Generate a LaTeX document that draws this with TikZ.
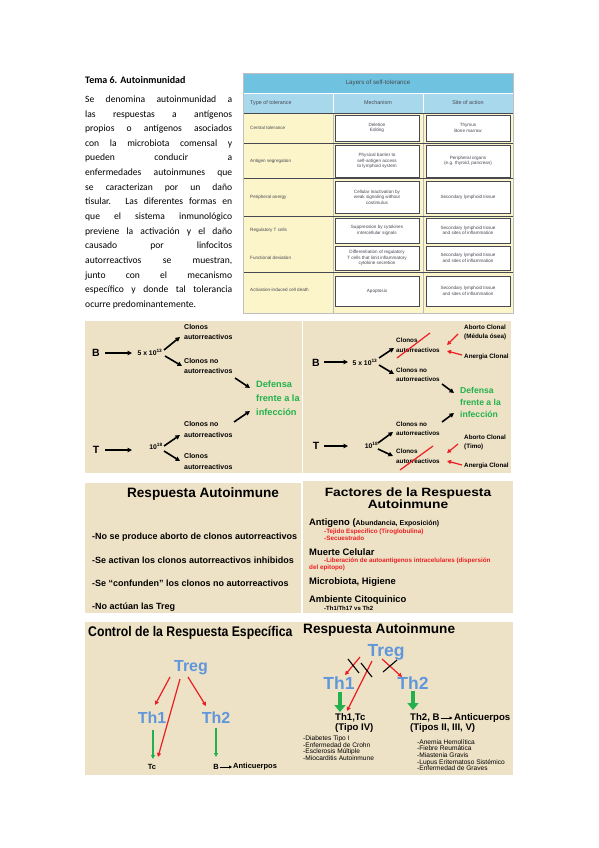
\documentclass[tikz,border=0pt]{standalone}
\usepackage{fontspec}
\setmainfont{Liberation Sans}
\newfontfamily\calf{Carlito}
\usetikzlibrary{arrows.meta,shadows}
\definecolor{parch}{RGB}{238,226,198}
\definecolor{tblue}{RGB}{112,195,224}
\definecolor{hblue}{RGB}{168,216,236}
\definecolor{tyel}{RGB}{252,245,202}
\definecolor{dgreen}{RGB}{34,177,76}
\definecolor{tblu}{RGB}{95,150,220}
\definecolor{rred}{RGB}{235,30,35}
\definecolor{tgray}{RGB}{70,72,82}
\tikzset{
 blk/.style={-{Triangle[length=4.5pt,width=4.5pt]}, line width=1.6pt},
 redar/.style={-{Triangle[length=4pt,width=4pt]}, line width=1.2pt, draw=rred},
 strike/.style={draw=rred, line width=1.2pt},
 xline/.style={draw=black, line width=1.1pt},
 grnar/.style={-{Triangle[length=4pt,width=4pt]}, line width=1.2pt, draw=dgreen},
 fatar/.style={-{Triangle[length=7pt,width=11pt]}, line width=4pt, draw=dgreen},
 thinar/.style={-{Triangle[length=3pt,width=3pt]}, line width=1pt},
 bigl/.style={font=\bfseries\fontsize{10.5}{12}\selectfont, inner sep=0pt},
 numl/.style={font=\bfseries\fontsize{6.8}{8}\selectfont, inner sep=0pt},
 lbla/.style={font=\bfseries\fontsize{7}{10.5}\selectfont, align=left, anchor=west, inner sep=0pt},
 lblb/.style={font=\bfseries\fontsize{6.3}{9.5}\selectfont, align=left, anchor=west, inner sep=0pt},
 grna/.style={font=\bfseries\fontsize{9.2}{14}\selectfont, text=dgreen, align=left, anchor=west, inner sep=0pt},
 grnb/.style={font=\bfseries\fontsize{8.6}{12}\selectfont, text=dgreen, align=left, anchor=west, inner sep=0pt},
 ttl/.style={font=\bfseries\fontsize{13.6}{15}\selectfont, inner sep=0pt},
 bul/.style={font=\bfseries\fontsize{9}{10}\selectfont, anchor=west, inner sep=0pt},
 dttl/.style={font=\bfseries\fontsize{12}{12.5}\selectfont, align=center, inner sep=0pt, xscale=1.15, transform shape},
 dhead/.style={font=\bfseries\fontsize{9.4}{10}\selectfont, anchor=west, inner sep=0pt},
 dred/.style={font=\bfseries\fontsize{6.3}{7}\selectfont, text=rred, anchor=west, inner sep=0pt},
 dsmall/.style={font=\bfseries\fontsize{6}{7}\selectfont, anchor=west, inner sep=0pt},
 ettl/.style={font=\bfseries\fontsize{14}{15}\selectfont, anchor=west, inner sep=0pt, xscale=0.875, transform shape},
 tbE/.style={font=\bfseries\fontsize{16}{17}\selectfont, text=tblu, inner sep=0pt},
 tbF/.style={font=\bfseries\fontsize{17.5}{18}\selectfont, text=tblu, inner sep=0pt},
 smallb/.style={font=\bfseries\fontsize{7.5}{8}\selectfont, inner sep=0pt},
 fmid/.style={font=\bfseries\fontsize{9.6}{10}\selectfont, align=left, anchor=west, inner sep=0pt},
 flist/.style={font=\fontsize{6.6}{6.7}\selectfont, align=left, anchor=west, inner sep=0pt},
 para/.style={font=\calf\fontsize{9.6}{14.64}\selectfont, align=left, anchor=north west, inner sep=0pt},
 tl/.style={font=\fontsize{4.6}{5.4}\selectfont, text=tgray, anchor=west, inner sep=0pt},
 th/.style={font=\fontsize{5.4}{6}\selectfont, text=tgray, inner sep=0pt},
 tbox/.style={draw=tgray, fill=white, line width=0.5pt, minimum width=84pt, align=center,
   font=\fontsize{4.6}{5.4}\selectfont, text=tgray, inner sep=1pt,
   drop shadow={shadow xshift=1.2pt, shadow yshift=-1.2pt, fill=tgray!85, opacity=1}},
}
\begin{document}
\begin{tikzpicture}[x=1pt,y=-1pt]
\useasboundingbox (0,0) rectangle (599,848);
\fill[white] (0,0) rectangle (599,848);
% ---------------- text block
\node[anchor=base west, inner sep=0pt, font=\calf\bfseries\fontsize{10}{12}\selectfont] (tema) at (85,83.5) {Tema 6. Autoinmunidad};
\node[para] (para) at (85,95.5) {%
\makebox[147pt][s]{Se denomina autoinmunidad a}\\
\makebox[147pt][s]{las respuestas a antígenos}\\
\makebox[147pt][s]{propios o antígenos asociados}\\
\makebox[147pt][s]{con la microbiota comensal y}\\
\makebox[147pt][s]{pueden conducir a}\\
\makebox[147pt][s]{enfermedades autoinmunes que}\\
\makebox[147pt][s]{se caracterizan por un daño}\\
\makebox[147pt][s]{tisular. Las diferentes formas en}\\
\makebox[147pt][s]{que el sistema inmunológico}\\
\makebox[147pt][s]{previene la activación y el daño}\\
\makebox[147pt][s]{causado por linfocitos}\\
\makebox[147pt][s]{autorreactivos se muestran,}\\
\makebox[147pt][s]{junto con el mecanismo}\\
\makebox[147pt][s]{específico y donde tal tolerancia}\\
ocurre predominantemente.};
% ---------------- table
\fill[tyel] (243,113) rectangle (513,313);
\fill[tblue] (243,73) rectangle (513,93);
\fill[hblue] (243,93) rectangle (513,113);
\draw[white, line width=0.8pt] (243,93) -- (513,93) (333,93) -- (333,113) (423,93) -- (423,113);
\draw[gray!55, line width=0.5pt] (333,113) -- (333,313) (423,113) -- (423,313);
\draw[tgray, line width=0.6pt] (243,113) -- (513,113) (243,143) -- (513,143) (243,178) -- (513,178)
  (243,216) -- (513,216) (243,272) -- (513,272) (243,313) -- (513,313);
\draw[gray!50, line width=0.4pt] (243,73) rectangle (513,313);
\node[th, font=\fontsize{6.2}{7}\selectfont] (ttitle) at (378,83) {Layers of self-tolerance};
\node[th, anchor=west] (hType) at (250,103) {Type of tolerance};
\node[th] (hMech) at (378,103) {Mechanism};
\node[th] (hSite) at (468,103) {Site of action};
\node[tl] (r1) at (250,128) {Central tolerance};
\node[tl] (r2) at (250,161) {Antigen segregation};
\node[tl] (r3) at (250,197) {Peripheral anergy};
\node[tl] (r4) at (250,230) {Regulatory T cells};
\node[tl] (r5) at (250,258) {Functional deviation};
\node[tl] (r6) at (250,290) {Activation-induced cell death};
\node[tbox, minimum height=26pt] (m1) at (377,128) {Deletion\\Editing};
\node[tbox, minimum height=26pt] (s1) at (468,128) {Thymus\\Bone marrow};
\node[tbox, minimum height=32pt] (m2) at (377,161) {Physical barrier to\\self-antigen access\\to lymphoid system};
\node[tbox, minimum height=32pt] (s2) at (468,161) {Peripheral organs\\(e.g. thyroid, pancreas)};
\node[tbox, minimum height=32pt] (m3) at (377,197) {Cellular inactivation by\\weak signaling without\\costimulus};
\node[tbox, minimum height=32pt] (s3) at (468,197) {Secondary lymphoid tissue};
\node[tbox, minimum height=25pt] (m4) at (377,230.5) {Suppression by cytokines\\intercellular signals};
\node[tbox, minimum height=25pt] (s4) at (468,230.5) {Secondary lymphoid tissue\\and sites of inflammation};
\node[tbox, minimum height=24pt] (m5) at (377,258) {Differentiation of regulatory\\T cells that limit inflammatory\\cytokine secretion};
\node[tbox, minimum height=24pt] (s5) at (468,258) {Secondary lymphoid tissue\\and sites of inflammation};
\node[tbox, minimum height=30pt] (m6) at (377,291) {Apoptosis};
\node[tbox, minimum height=30pt] (s6) at (468,291) {Secondary lymphoid tissue\\and sites of inflammation};
% ---------------- panels background
\fill[parch] (85,321) rectangle (302,473);
\fill[parch] (303,321) rectangle (511,473);
\fill[parch] (85,483) rectangle (301,613);
\fill[parch] (303,481) rectangle (513,613);
\fill[parch] (85,622) rectangle (513,775);
% ---------------- panel A
\node[bigl] (Ba) at (96,353) {B};
\node[numl] (Na) at (150,352) {5 x 10\textsuperscript{13}};
\draw[blk] ([shift={(9,0)}]Ba.center) -- ([shift={(-18,1)}]Na.center);
\node[lbla] (ca1) at (184,332) {Clonos\\autorreactivos};
\draw[blk] ([shift={(14,-2)}]Na.center) -- ([shift={(-4,5)}]ca1.west);
\node[lbla] (cb1) at (184,366) {Clonos no\\autorreactivos};
\draw[blk] ([shift={(15,4)}]Na.center) -- ([shift={(-2,0)}]cb1.west);
\node[grna] (def1) at (256,398) {Defensa\\frente a la\\infección};
\draw[blk] ([shift={(51,12)}]cb1.west) -- ([shift={(-6,-10)}]def1.west);
\node[lbla] (cc1) at (184,429.5) {Clonos no\\autorreactivos};
\draw[blk] ([shift={(50,-7.5)}]cc1.west) -- ([shift={(-6,13)}]def1.west);
\node[bigl] (Ta) at (96,450) {T};
\node[numl] (Nt) at (156,446) {10\textsuperscript{18}};
\draw[blk] ([shift={(9,0)}]Ta.center) -- ([shift={(-24,4)}]Nt.center);
\node[lbla] (cd1) at (184,461.5) {Clonos\\autorreactivos};
\draw[blk] ([shift={(8,0)}]Nt.center) -- ([shift={(-4,5.5)}]cc1.west);
\draw[blk] ([shift={(8,5)}]Nt.center) -- ([shift={(-4,-0.5)}]cd1.west);
% ---------------- panel B
\node[bigl] (Bb) at (316,363) {B};
\node[numl] (Nb) at (365,362) {5 x 10\textsuperscript{13}};
\draw[blk] ([shift={(8,-1)}]Bb.center) -- ([shift={(-17,0)}]Nb.center);
\node[lblb] (ca2) at (396,345) {Clonos\\autorreactivos};
\draw[blk] ([shift={(14,-4)}]Nb.center) -- ([shift={(-2,3)}]ca2.west);
\draw[strike] ([shift={(1,13)}]ca2.west) -- ([shift={(34,-12)}]ca2.west);
\node[lblb] (ab1) at (464,332.5) {Aborto Clonal\\(Médula ósea)};
\node[lblb] (an1) at (464,357) {Anergia Clonal};
\draw[redar] ([shift={(-6,1.5)}]ab1.west) -- ([shift={(51,0)}]ca2.west);
\draw[redar] ([shift={(-2,-2)}]an1.west) -- ([shift={(51,6)}]ca2.west);
\node[lblb] (cb2) at (396,374.5) {Clonos no\\autorreactivos};
\draw[blk] ([shift={(14,3)}]Nb.center) -- ([shift={(-2,-0.5)}]cb2.west);
\node[grnb] (def2) at (460,402) {Defensa\\frente a la\\infección};
\draw[blk] ([shift={(46,9.5)}]cb2.west) -- ([shift={(-6,-9)}]def2.west);
\node[lblb] (cc2) at (396,428.5) {Clonos no\\autorreactivos};
\draw[blk] ([shift={(46,-6.5)}]cc2.west) -- ([shift={(-6,11)}]def2.west);
\node[bigl] (Tb) at (316,446) {T};
\node[numl] (Nt2) at (371.5,445) {10\textsuperscript{18}};
\draw[blk] ([shift={(8,0)}]Tb.center) -- ([shift={(-23.5,1)}]Nt2.center);
\node[lblb] (cd2) at (396,456) {Clonos\\autorreactivos};
\draw[blk] ([shift={(6.5,-2)}]Nt2.center) -- ([shift={(-3,3.5)}]cc2.west);
\draw[blk] ([shift={(6.5,4)}]Nt2.center) -- ([shift={(-3,0)}]cd2.west);
\draw[strike] ([shift={(4,14)}]cd2.west) -- ([shift={(37,-10)}]cd2.west);
\node[lblb] (ab2) at (464,442.5) {Aborto Clonal\\(Timo)};
\node[lblb] (an2) at (464,466) {Anergia Clonal};
\draw[redar] ([shift={(-6,1.5)}]ab2.west) -- ([shift={(51,-3)}]cd2.west);
\draw[redar] ([shift={(-2,-1)}]an2.west) -- ([shift={(51,5)}]cd2.west);
% ---------------- panel C
\node[ttl] (rtitle) at (203,494) {Respuesta Autoinmune};
\node[bul] (b1) at (92,537) {-No se produce aborto de clonos autorreactivos};
\node[bul] (b2) at (92,560) {-Se activan los clonos autorreactivos inhibidos};
\node[bul] (b3) at (92,583) {-Se “confunden” los clonos no autorreactivos};
\node[bul] (b4) at (92,607) {-No actúan las Treg};
% ---------------- panel D
\node[dttl] (ftitle) at (408,498) {Factores de la Respuesta\\Autoinmune};
\node[dhead] (d1) at (309,523) {Antigeno ({\fontsize{7}{8}\selectfont Abundancia, Exposición)}};
\node[dred] (d2) at (324,532) {-Tejido Especifico (Tiroglobulina)};
\node[dred] (d3) at (324,538) {-Secuestrado};
\node[dhead] (d4) at (309,552) {Muerte Celular};
\node[dred] (d5) at (324,561) {-Liberación de autoantigenos intracelulares (dispersión};
\node[dred] (d6) at (309,568) {del epitopo)};
\node[dhead] (d7) at (309,582) {Microbiota, Higiene};
\node[dhead] (d8) at (309,600) {Ambiente Citoquinico};
\node[dsmall] (d9) at (324,608) {-Th1/Th17 vs Th2};
% ---------------- panel E
\node[ettl] (ctitle) at (88,633) {Control de la Respuesta Específica};
\node[tbE] (tregE) at (191,668) {Treg};
\node[tbE] (th1E) at (152,718) {Th1};
\node[tbE] (th2E) at (216,718) {Th2};
\node[smallb] (tcE) at (152,767) {Tc};
\node[smallb] (bE) at (216,767) {B};
\node[smallb, anchor=west] (antE) at (233,767) {Anticuerpos};
\draw[redar] ([shift={(-21,9)}]tregE.center) -- ([shift={(3,-13)}]th1E.center);
\draw[redar] ([shift={(-11,11)}]tregE.center) -- ([shift={(6,-10)}]tcE.center);
\draw[redar] ([shift={(-3,9)}]tregE.center) -- ([shift={(-10,-12)}]th2E.center);
\draw[grnar] ([shift={(1,12)}]th1E.center) -- ([shift={(1,-8)}]tcE.center);
\draw[grnar] ([shift={(0,10)}]th2E.center) -- ([shift={(0,-10)}]bE.center);
\draw[thinar] ([shift={(1,0)}]bE.east) -- ([shift={(-1,0)}]antE.west);
% ---------------- panel F
\node[ttl, anchor=west] (rtitle2) at (303,630) {Respuesta Autoinmune};
\node[tbF] (tregF) at (386,652) {Treg};
\node[tbF] (th1F) at (339,683) {Th1};
\node[tbF] (th2F) at (413,683) {Th2};
\node[fmid] (th1tc) at (335,723) {Th1,Tc\\(Tipo IV)};
\node[fmid] (th2b) at (410,718) {Th2, B};
\node[fmid] (antF) at (454,718) {Anticuerpos};
\node[fmid] (tipos) at (410,728) {(Tipos II, III, V)};
\draw[redar] ([shift={(-26,5)}]tregF.center) -- ([shift={(6,-8)}]th1F.center);
\draw[redar] ([shift={(-14,9)}]tregF.center) -- ([shift={(12,-12)}]th1tc.west);
\draw[redar] ([shift={(-4,7)}]tregF.center) -- ([shift={(-11,-6)}]th2F.center);
\draw[xline] ([shift={(-38,7)}]tregF.center) -- ([shift={(-27,21)}]tregF.center);
\draw[xline] ([shift={(-25,11)}]tregF.center) -- ([shift={(-14,25)}]tregF.center);
\draw[xline] ([shift={(-3,20)}]tregF.center) -- ([shift={(11,8)}]tregF.center);
\draw[fatar] ([shift={(1,9)}]th1F.center) -- ([shift={(5,-11)}]th1tc.west);
\draw[fatar] ([shift={(0,8)}]th2F.center) -- ([shift={(3,-8)}]th2b.west);
\draw[thinar] ([shift={(1,0)}]th2b.east) -- ([shift={(-1.5,0)}]antF.west);
\node[flist] (l1) at (303,748) {-Diabetes Tipo I\\-Enfermedad de Crohn\\-Esclerosis Múltiple\\-Miocarditis Autoinmune};
\node[flist] (l2) at (417,755) {-Anemia Hemolítica\\-Fiebre Reumática\\-Miastenia Gravis\\-Lupus Eritematoso Sistémico\\-Enfermedad de Graves};
\end{tikzpicture}
\end{document}
